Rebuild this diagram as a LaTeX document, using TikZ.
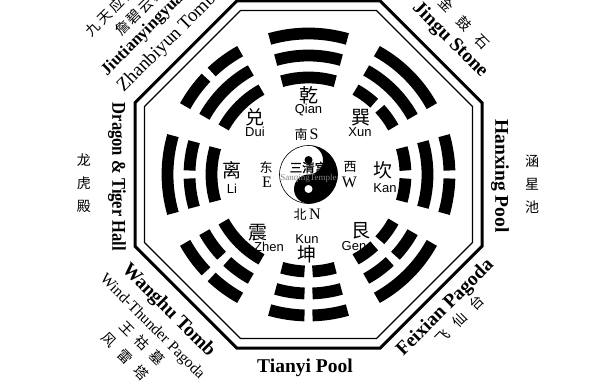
\documentclass[tikz,border=0pt]{standalone}
\usepackage{fontspec}
\setmainfont{Liberation Serif}
\newfontfamily\arialfont{Liberation Sans}
\newfontfamily\cjk[AutoFakeBold=1.5]{Noto Sans CJK SC}
\usetikzlibrary{calc}

\newcommand{\yao}[3]{%
  \ifnum#3=1
    \draw[yaoline] ({#1-16}:#2) arc[start angle=#1-16, end angle=#1+16, radius=#2];
  \else
    \draw[yaoline] ({#1-16}:#2) arc[start angle=#1-16, end angle=#1-229/#2, radius=#2];
    \draw[yaoline] ({#1+16}:#2) arc[start angle=#1+16, end angle=#1+229/#2, radius=#2];
  \fi}

\begin{document}
\begin{tikzpicture}[x=1pt, y=1pt, inner sep=0pt,
  yaoline/.style={line width=11.8},
  gua/.style={font=\cjk\fontsize{19}{19}\selectfont},
  py/.style={font=\arialfont\fontsize{13}{13}\selectfont},
  fang/.style={font=\cjk\fontsize{13}{13}\selectfont},
  dir/.style={font=\fontsize{16}{16}\selectfont},
  site/.style={font=\fontsize{19.5}{20}\selectfont\bfseries},
  sub/.style={font=\fontsize{16}{17}\selectfont},
  zh/.style={font=\cjk\fontsize{14}{14}\selectfont}]
\useasboundingbox (-308.5,-205.5) rectangle (284.5,174.5);
\clip (-308.5,-205.5) rectangle (284.5,174.5);

\draw[line width=3] (22.5:187.8) \foreach \k in {1,...,7}{ -- ({22.5+45*\k}:187.8)} -- cycle;
\draw[line width=1.2] (22.5:177.5) \foreach \k in {1,...,7}{ -- ({22.5+45*\k}:177.5)} -- cycle;

\foreach \ang/\ya/\yb/\yc in {90/1/1/1, 45/0/1/1, 0/0/1/0, -45/0/0/1,
    -90/0/0/0, -135/1/0/0, 180/1/0/1, 135/1/1/0}{
  \yao{\ang}{97}{\ya}
  \yao{\ang}{119}{\yb}
  \yao{\ang}{141}{\yc}
}

\fill (0,29) arc[start angle=90, end angle=-90, radius=29]
  arc[start angle=-90, end angle=-270, radius=14.5]
  arc[start angle=-90, end angle=90, radius=14.5] -- cycle;
\fill (0,14.5) circle (4);
\fill[white] (0,-14.5) circle (4);
\draw[line width=0.6] (0,0) circle (29);
\node[font=\cjk\bfseries\fontsize{12.5}{12.5}\selectfont] (sanqing) at (0,7) {三清宫};
\node[font=\fontsize{9}{9}\selectfont, text=gray] (temple) at (0,-4) {SanqingTemple};

\node[gua] (qianzh) at (0,79.5) {乾};
\node[py] (qianpy) at (0,64.5) {Qian};
\node[gua] (duizh) at (-53.5,57.5) {兑};
\node[py] (duipy) at (-53.5,42.5) {Dui};
\node[gua] (xunzh) at (52.5,56.5) {巽};
\node[py] (xunpy) at (51.5,42.5) {Xun};
\node[gua] (lizh) at (-76.5,4.5) {离};
\node[py] (lipy) at (-76.5,-14.5) {Li};
\node[gua] (kanzh) at (74.5,4.5) {坎};
\node[py] (kanpy) at (76.5,-13.5) {Kan};
\node[gua] (zhenzh) at (-50.5,-58) {震};
\node[py] (zhenpy) at (-39.5,-72) {Zhen};
\node[py] (kunpy) at (-1.5,-65) {Kun};
\node[gua] (kunzh) at (-1.5,-80) {坤};
\node[gua] (genzh) at (52.5,-56) {艮};
\node[py] (genpy) at (45.5,-72) {Gen};

\node[fang] (nan) at (-7.5,39.5) {南};
\node[dir] (south) at (5.5,40) {S};
\node[fang] (dong) at (-42.5,7.5) {东};
\node[dir] (east) at (-41.5,-7.5) {E};
\node[fang] (xi) at (41.5,7.5) {西};
\node[dir] (west) at (41,-7.5) {W};
\node[fang] (bei) at (-8.5,-40.5) {北};
\node[dir] (north) at (6.5,-39.5) {N};

\node[zh, rotate=45, anchor=west] (jiutianzh) at ($(135:256)+(45:-57)$) {九\hspace{3pt}天\hspace{3pt}应\hspace{3pt}元\hspace{3pt}府};
\node[zh, rotate=45, anchor=west] (zhanzh) at ($(135:235)+(45:-35)$) {詹\hspace{2pt}碧\hspace{2pt}云\hspace{2pt}墓};
\node[site, font=\fontsize{17}{17}\selectfont\bfseries, rotate=45, anchor=west] (jiutian) at ($(135:216)+(45:-73)$) {Jiutianyingyuan Palace};
\node[sub, font=\fontsize{19}{19}\selectfont, rotate=45, anchor=west] (zhanbiyun) at ($(135:193)+(45:-73)$) {Zhanbiyun Tomb};

\node[site, rotate=-45] (jingu) at ($(45:195)+(-45:5)$) {Jingu Stone};
\node[zh, rotate=-45] (jinguzh) at ($(45:217)+(-45:3)$) {金\hspace{11.5pt}鼓\hspace{11.5pt}石};

\node[site, rotate=-90] (hanxing) at (191.5,-1.5) {Hanxing Pool};
\node[zh, font=\cjk\fontsize{14}{23}\selectfont, align=center] (hanxingzh) at (223.5,-9.5) {涵\\星\\池};

\node[site, rotate=-90] (longhu) at (-191.5,-2.5) {\scalebox{0.85}[1]{Dragon \& Tiger Hall}};
\node[zh, font=\cjk\fontsize{14}{23}\selectfont, align=center] (longhuzh) at (-224.5,-9) {龙\\虎\\殿};

\node[site, rotate=-45] (wanghu) at ($(225:195.5)+(-45:-3)$) {Wanghu Tomb};
\node[sub, font=\fontsize{15.5}{16}\selectfont, rotate=-45, anchor=west] (fenglei) at ($(225:218.5)+(-45:-73.5)$) {Wind-Thunder Pagoda};
\node[zh, rotate=-45] (wanghuzh) at ($(225:237)+(-45:1.5)$) {王\hspace{7pt}祜\hspace{7pt}墓};
\node[zh, rotate=-45] (fengleizh) at ($(225:258)+(-45:-1)$) {风\hspace{9pt}雷\hspace{9pt}塔};

\node[site] (tianyi) at (-3.5,-193.5) {Tianyi Pool};

\node[site, rotate=45] (feixian) at ($(315:191.3)+(45:2.5)$) {Feixian Pagoda};
\node[zh, rotate=45] (feixianzh) at ($(315:209.5)+(45:4)$) {飞\hspace{10pt}仙\hspace{10pt}台};
\end{tikzpicture}
\end{document}
